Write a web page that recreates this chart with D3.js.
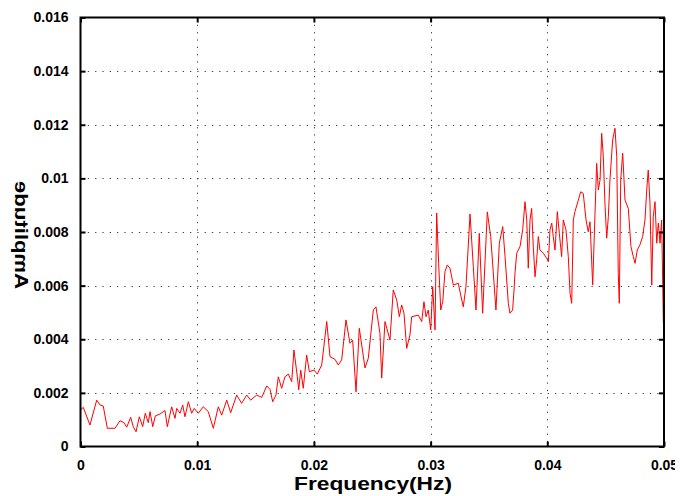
<!DOCTYPE html>
<html>
<head>
<meta charset="utf-8">
<script src="https://cdn.jsdelivr.net/npm/d3@7"></script>
<style>
  html, body { margin: 0; padding: 0; background: #fff; }
  svg { display: block; overflow: hidden; }
</style>
</head>
<body>
<div id="chart"></div>
<script>
// ---- data ----
const frequency = [0,0.00024,0.00081,0.00139,0.00167,0.00195,0.00230,0.00296,0.00338,0.00373,0.00396,0.00430,0.00452,0.00476,0.00504,0.00533,0.00555,0.00581,0.00596,0.00619,0.00641,0.00681,0.00724,0.00744,0.00781,0.00810,0.00824,0.00853,0.00876,0.00895,0.00924,0.00953,0.00975,0.01009,0.01052,0.01095,0.01138,0.01181,0.01210,0.01253,0.01287,0.01338,0.01381,0.01424,0.01458,0.01510,0.01553,
0.01596,0.01624,0.01647,0.01675,0.01695,0.01724,0.01752,0.01781,0.01810,0.01829,0.01858,0.01870,0.01887,0.01909,0.01938,0.01961,0.02001,0.02029,0.02067,0.02110,0.02138,0.02181,0.02209,0.02238,0.02275,0.02309,0.02332,0.02361,0.02389,0.02438,0.02466,0.02509,0.02532,0.02566,0.02581,0.02609,0.02652,0.02680,0.02710,0.02732,0.02752,0.02772,0.02795,0.02823,0.02838,0.02895,0.02924,0.02943,0.02961,0.02980,0.03001,0.03018,0.03038,0.03052,0.03069,0.03087,0.03104,0.03123,0.03143,0.03166,0.03195,0.03237,0.03258,0.03280,0.03303,0.03338,0.03366,0.03389,0.03417,0.03446,0.03486,0.03515,0.03560,0.03589,0.03618,
0.03638,0.03666,0.03680,0.03703,0.03715,0.03723,0.03738,0.03766,0.03789,0.03809,0.03824,0.03837,0.03852,0.03866,0.03880,0.03895,0.03909,0.03923,0.03937,0.03966,0.03995,0.04009,0.04023,0.04038,0.04051,0.04066,0.04086,0.04103,0.04123,0.04137,0.04160,0.04180,0.04195,0.04209,0.04223,0.04237,0.04266,0.04286,0.04308,0.04332,0.04351,0.04366,0.04389,0.04409,0.04423,0.04437,0.04452,0.04466,0.04480,0.04494,0.04509,0.04523,0.04537,0.04560,0.04580,0.04595,0.04608,0.04617,0.04629,0.04646,0.04666,0.04694,0.04717,0.04737,0.04752,0.04771,0.04794,0.04817,0.04837,0.04852,0.04865,0.04880,0.04895,0.04908,0.04923,0.04938,0.04951,0.04966,0.04980,0.04994,0.05000];

const amplitude = [0.00136,0.00146,0.00080,0.00173,0.00155,0.00151,0.00068,0.00068,0.00096,0.00089,0.00072,0.00109,0.00074,0.00055,0.00111,0.00074,0.00124,0.00089,0.00130,0.00074,0.00114,0.00121,0.00134,0.00074,0.00148,0.00105,0.00142,0.00124,0.00155,0.00111,0.00167,0.00124,0.00142,0.00124,0.00148,0.00130,0.00068,0.00148,0.00117,0.00173,0.00126,0.00192,0.00161,0.00192,0.00173,0.00192,0.00183,
0.00226,0.00213,0.00167,0.00192,0.00260,0.00217,0.00260,0.00270,0.00242,0.00360,0.00260,0.00211,0.00285,0.00217,0.00341,0.00279,0.00285,0.00270,0.00304,0.00466,0.00335,0.00325,0.00304,0.00323,0.00472,0.00385,0.00397,0.00204,0.00441,0.00293,0.00329,0.00509,0.00521,0.00422,0.00255,0.00466,0.00397,0.00584,0.00546,0.00484,0.00528,0.00497,0.00366,0.00416,0.00484,0.00490,0.00466,0.00540,0.00484,0.00509,0.00435,0.00596,0.00435,0.00871,0.00683,0.00509,0.00540,0.00652,0.00677,0.00665,0.00602,0.00609,0.00565,0.00521,0.00596,0.00867,0.00671,0.00509,0.00795,0.00497,0.00875,0.00783,0.00509,0.00758,0.00820,
0.00708,0.00534,0.00497,0.00509,0.00584,0.00646,0.00721,0.00745,0.00808,0.00913,0.00845,0.00665,0.00845,0.00888,0.00745,0.00633,0.00696,0.00783,0.00733,0.00721,0.00702,0.00689,0.00808,0.00833,0.00783,0.00733,0.00876,0.00795,0.00708,0.00845,0.00808,0.00708,0.00571,0.00534,0.00845,0.00876,0.00919,0.00950,0.00944,0.00845,0.00801,0.00838,0.00602,0.00870,0.01056,0.00957,0.00994,0.01168,0.01081,0.00907,0.00777,0.00857,0.00994,0.01143,0.01187,0.01081,0.00646,0.00534,0.00994,0.01094,0.00919,0.00888,0.00745,0.00708,0.00683,0.00733,0.00752,0.00783,0.00845,0.00957,0.01031,0.00907,0.00602,0.00857,0.00913,0.00758,0.00833,0.00758,0.00845,0.00472,0.00423];

const xTicks = [0, 0.01, 0.02, 0.03, 0.04, 0.05];
const xTickLabels = ["0", "0.01", "0.02", "0.03", "0.04", "0.05"];
const yTicks = [0, 0.002, 0.004, 0.006, 0.008, 0.01, 0.012, 0.014, 0.016];
const yTickLabels = ["0", "0.002", "0.004", "0.006", "0.008", "0.01", "0.012", "0.014", "0.016"];
const xLabel = "Frequency(Hz)";
const yLabel = "Amplitude";

// ---- layout ----
const W = 675, H = 496;
const m = { left: 80.5, right: 664, top: 17.5, bottom: 446.5 };

const svg = d3.select("#chart").append("svg")
  .attr("width", W).attr("height", H);

const x = d3.scaleLinear().domain([0, 0.05]).range([m.left, m.right]);
const y = d3.scaleLinear().domain([0, 0.016]).range([m.bottom, m.top]);

const font = "'Liberation Sans', Arial, Helvetica, sans-serif";

// grid
const grid = svg.append("g");
grid.selectAll(".gx").data(xTicks.slice(1, -1)).join("line")
  .attr("x1", d => Math.round(x(d)) + 0.5).attr("x2", d => Math.round(x(d)) + 0.5)
  .attr("y1", m.top).attr("y2", m.bottom)
  .attr("stroke", "#444").attr("stroke-width", 1).attr("stroke-dasharray", "1.3,6");
grid.selectAll(".gy").data(yTicks.slice(1, -1)).join("line")
  .attr("y1", d => Math.round(y(d)) + 0.5).attr("y2", d => Math.round(y(d)) + 0.5)
  .attr("x1", m.left).attr("x2", m.right)
  .attr("stroke", "#444").attr("stroke-width", 1).attr("stroke-dasharray", "1.3,6");

// data line
const pts = frequency.map((f, i) => [f, amplitude[i]]);
svg.append("path")
  .datum(pts)
  .attr("fill", "none")
  .attr("stroke", "#ff0000")
  .attr("stroke-width", 1)
  .attr("d", d3.line().x(d => x(d[0])).y(d => y(d[1])));

// axes (inward ticks on all sides)
const axB = svg.append("g").attr("transform", `translate(0,${m.bottom})`)
  .call(d3.axisBottom(x).tickValues(xTicks).tickFormat((d, i) => xTickLabels[i]).tickSizeInner(-5).tickSizeOuter(0).tickPadding(14));
const axT = svg.append("g").attr("transform", `translate(0,${m.top})`)
  .call(d3.axisTop(x).tickValues(xTicks).tickFormat("").tickSizeInner(-5).tickSizeOuter(0));
const axL = svg.append("g").attr("transform", `translate(${m.left},0)`)
  .call(d3.axisLeft(y).tickValues(yTicks).tickFormat((d, i) => yTickLabels[i]).tickSizeInner(-5).tickSizeOuter(0).tickPadding(12));
const axR = svg.append("g").attr("transform", `translate(${m.right},0)`)
  .call(d3.axisRight(y).tickValues(yTicks).tickFormat("").tickSizeInner(-5).tickSizeOuter(0));

[axB, axT, axL, axR].forEach(a => {
  a.select(".domain").remove();
  a.selectAll(".tick line").attr("stroke", "#000").attr("stroke-width", 2);
  a.selectAll("text").attr("fill", "#000")
    .style("font-family", font).style("font-size", "14px").style("font-weight", "bold");
});

// frame
svg.append("rect")
  .attr("x", m.left).attr("y", m.top)
  .attr("width", m.right - m.left).attr("height", m.bottom - m.top)
  .attr("fill", "none").attr("stroke", "#000").attr("stroke-width", 2);

// labels
svg.append("text")
  .attr("x", 373).attr("y", 490)
  .attr("text-anchor", "middle")
  .attr("textLength", 158).attr("lengthAdjust", "spacingAndGlyphs")
  .style("font-family", font).style("font-size", "19px").style("font-weight", "bold")
  .text(xLabel);

// y label: mirrored vertical text as in the reference
svg.append("text")
  .attr("transform", "translate(15,235) scale(-1,1) rotate(-90)")
  .attr("text-anchor", "middle")
  .attr("textLength", 108).attr("lengthAdjust", "spacingAndGlyphs")
  .style("font-family", font).style("font-size", "18px").style("font-weight", "bold")
  .text(yLabel);
</script>
</body>
</html>
